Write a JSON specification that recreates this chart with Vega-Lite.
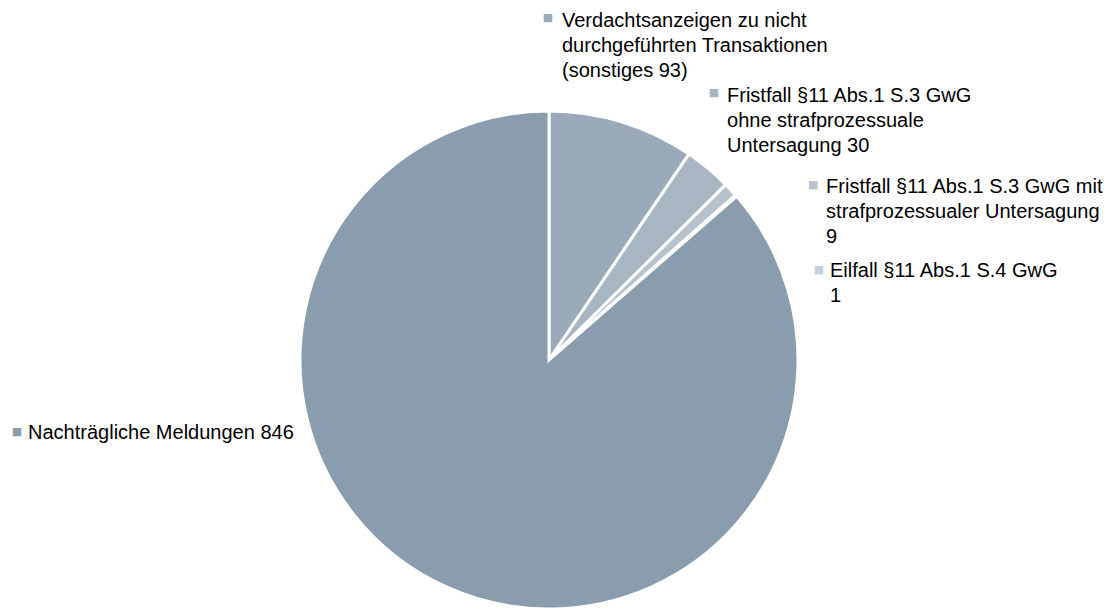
{
  "$schema": "https://vega.github.io/schema/vega-lite/v6.json",
  "autosize": "none",
  "width": 1098,
  "height": 498,
  "padding": {"left": 0, "top": 111, "right": 21, "bottom": 1},
  "background": "white",
  "config": {"view": {"stroke": null}, "text": {"font": "Liberation Sans", "fontSize": 20, "fill": "#000000", "lineHeight": 25, "lineBreak": "\n", "align": "left", "baseline": "alphabetic"}},
  "data": {"values": [
    {"cat": "Verdachtsanzeigen", "o": 1, "n": 93, "label": "Verdachtsanzeigen zu nicht\ndurchgeführten Transaktionen\n(sonstiges 93)"},
    {"cat": "Fristfall ohne", "o": 2, "n": 30, "label": "Fristfall §11 Abs.1 S.3 GwG\nohne strafprozessuale\nUntersagung 30"},
    {"cat": "Fristfall mit", "o": 3, "n": 9, "label": "Fristfall §11 Abs.1 S.3 GwG mit\nstrafprozessualer Untersagung\n9"},
    {"cat": "Eilfall", "o": 4, "n": 1, "label": "Eilfall §11 Abs.1 S.4 GwG\n1"},
    {"cat": "Nachträgliche", "o": 5, "n": 846, "label": "Nachträgliche Meldungen 846"}
  ]},
  "encoding": {
    "theta": {"field": "n", "type": "quantitative", "stack": true},
    "order": {"field": "o", "type": "quantitative"}
  },
  "layer": [
    {
      "mark": {"type": "arc", "outerRadius": 249, "stroke": "white", "strokeWidth": 3},
      "encoding": {"color": {"field": "cat", "type": "nominal", "legend": null,
        "scale": {"domain": ["Verdachtsanzeigen", "Fristfall ohne", "Fristfall mit", "Eilfall", "Nachträgliche"],
                  "range": ["#9AAABB", "#A8B6C4", "#B6C2CE", "#C5CFD9", "#8A9DAF"]}}}
    },
    {"mark": {"type": "text", "radius": 270, "dx": -66.4, "dy": -75.4},
     "encoding": {"text": {"condition": {"test": "datum.o === 1", "field": "label"}, "value": ""}}},
    {"mark": {"type": "text", "radius": 270, "dx": 5.5, "dy": -50.8},
     "encoding": {"text": {"condition": {"test": "datum.o === 2", "field": "label"}, "value": ""}}},
    {"mark": {"type": "text", "radius": 270, "dx": 80, "dy": 17.1},
     "encoding": {"text": {"condition": {"test": "datum.o === 3", "field": "label"}, "value": ""}}},
    {"mark": {"type": "text", "radius": 270, "dx": 78.1, "dy": 95.6},
     "encoding": {"text": {"condition": {"test": "datum.o === 4", "field": "label"}, "value": ""}}},
    {"mark": {"type": "text", "radius": 270, "dx": -409.2, "dy": -166.8},
     "encoding": {"text": {"condition": {"test": "datum.o === 5", "field": "label"}, "value": ""}}},
    {"mark": {"type": "text", "radius": 270, "dx": -80.4, "dy": -83.9, "font": "DejaVu Sans", "fontSize": 11, "align": "center", "baseline": "middle"},
     "encoding": {"text": {"condition": {"test": "datum.o === 1", "value": "■"}, "value": ""}, "color": {"field": "cat", "type": "nominal", "legend": null}}},
    {"mark": {"type": "text", "radius": 270, "dx": -7.5, "dy": -59.3, "font": "DejaVu Sans", "fontSize": 11, "align": "center", "baseline": "middle"},
     "encoding": {"text": {"condition": {"test": "datum.o === 2", "value": "■"}, "value": ""}, "color": {"field": "cat", "type": "nominal", "legend": null}}},
    {"mark": {"type": "text", "radius": 270, "dx": 67, "dy": 9.6, "font": "DejaVu Sans", "fontSize": 11, "align": "center", "baseline": "middle"},
     "encoding": {"text": {"condition": {"test": "datum.o === 3", "value": "■"}, "value": ""}, "color": {"field": "cat", "type": "nominal", "legend": null}}},
    {"mark": {"type": "text", "radius": 270, "dx": 67.1, "dy": 88.1, "font": "DejaVu Sans", "fontSize": 11, "align": "center", "baseline": "middle"},
     "encoding": {"text": {"condition": {"test": "datum.o === 4", "value": "■"}, "value": ""}, "color": {"field": "cat", "type": "nominal", "legend": null}}},
    {"mark": {"type": "text", "radius": 270, "dx": -420.2, "dy": -173.8, "font": "DejaVu Sans", "fontSize": 11, "align": "center", "baseline": "middle"},
     "encoding": {"text": {"condition": {"test": "datum.o === 5", "value": "■"}, "value": ""}, "color": {"field": "cat", "type": "nominal", "legend": null}}}
  ]
}
